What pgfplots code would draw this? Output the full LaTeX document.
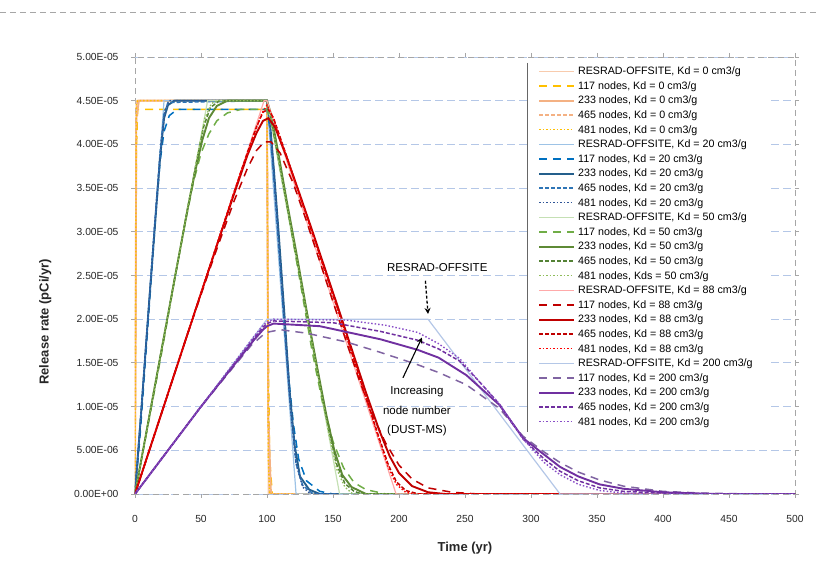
\documentclass[border=0pt]{standalone}
\usepackage{fontspec}
\setmainfont{Liberation Sans}
\usepackage{pgfplots}
\pgfplotsset{compat=1.18}
\usetikzlibrary{arrows.meta}
\definecolor{gridc}{HTML}{B4C7E7}
\definecolor{axc}{HTML}{A6A6A6}
% Kd = 0
\definecolor{rA}{HTML}{F8CBAD}\definecolor{aA}{HTML}{FFC000}\definecolor{bA}{HTML}{F4B183}\definecolor{cA}{HTML}{F4B183}\definecolor{dA}{HTML}{FFC000}
% Kd = 20
\definecolor{rB}{HTML}{9DC3E6}\definecolor{aB}{HTML}{0070C0}\definecolor{bB}{HTML}{245F8C}\definecolor{cB}{HTML}{2E75B6}\definecolor{dB}{HTML}{2F5597}
% Kd = 50
\definecolor{rC}{HTML}{C5E0B4}\definecolor{aC}{HTML}{70AD47}\definecolor{bC}{HTML}{5E8A35}\definecolor{cC}{HTML}{548235}\definecolor{dC}{HTML}{8FBC5A}
% Kd = 88
\definecolor{rD}{HTML}{FFAAAA}\definecolor{aD}{HTML}{C00000}\definecolor{bD}{HTML}{C00000}\definecolor{cD}{HTML}{C00000}\definecolor{dD}{HTML}{FF0000}
% Kd = 200
\definecolor{rE}{HTML}{B4C7E7}\definecolor{aE}{HTML}{8064A2}\definecolor{bE}{HTML}{7030A0}\definecolor{cE}{HTML}{7030A0}\definecolor{dE}{HTML}{8A4FC8}
\begin{document}
\begin{tikzpicture}
\path[use as bounding box] (-135pt,-78pt) rectangle (685pt,494pt);
\draw[axc, dash pattern=on 6pt off 4pt, line width=0.8pt] (-135pt,482pt) -- (685pt,482pt);
\begin{axis}[
 at={(0pt,0pt)}, anchor=south west,
 scale only axis, width=660pt, height=437pt,
 xmin=0, xmax=500, ymin=0, ymax=5,
 xtick={0,50,100,150,200,250,300,350,400,450,500},
 ytick={0,0.5,1,1.5,2,2.5,3,3.5,4,4.5,5},
 yticklabels={0.00E+00,5.00E-06,1.00E-05,1.50E-05,2.00E-05,2.50E-05,3.00E-05,3.50E-05,4.00E-05,4.50E-05,5.00E-05},
 /pgf/number format/assume math mode=true,
 ticklabel style={font=\fontsize{10.3}{12}\selectfont, text=black!85},
 xticklabel style={yshift=-14pt},
 yticklabel style={xshift=-9pt},
 ymajorgrids,
 grid style={gridc, dash pattern=on 8pt off 4pt, line width=0.8pt},
 axis line style={axc, dash pattern=on 6pt off 4pt, line width=0.8pt},
 tick align=outside, major tick length=4pt,
 tick style={axc, solid, line width=0.8pt},
 xlabel={\bfseries Time (yr)},
 ylabel={\bfseries Release rate (pCi/yr)},
 label style={font=\fontsize{13}{15}\selectfont, text=black!85},
 xlabel style={at={(axis description cs:0.5,-0.124)}, anchor=center},
 ylabel style={at={(axis description cs:-0.136,0.394)}, anchor=center},
 legend cell align=left,
 legend image code/.code={\draw[#1] (0pt,0pt) -- (35pt,0pt);},
 legend style={at={(0.594,0.988)}, anchor=north west, draw=none, fill=white,
   inner xsep=11pt,
   font=\fontsize{10.7}{13}\selectfont, row sep=0.7pt,
   nodes={inner xsep=3pt, inner ysep=1.2pt, text height=9pt, text depth=2.5pt}},
]
% ---- Kd = 0
\addplot[rA, line width=1.2pt] coordinates {(0,0)(1,4.5)(100,4.5)(101,0)(500,0)};
\addlegendentry{RESRAD-OFFSITE, Kd = 0 cm3/g}
\addplot[aA, line width=1.5pt, dash pattern=on 8pt off 6pt] coordinates {(0,0)(1,3.9)(2,4.4)(100,4.4)(101,1.6)(102,0.4)(104,0)(500,0)};
\addlegendentry{117 nodes, Kd = 0 cm3/g}
\addplot[bA, line width=1.9pt] coordinates {(0,0)(1,4.3)(3,4.5)(100,4.5)(101,0.9)(103,0)(500,0)};
\addlegendentry{233 nodes, Kd = 0 cm3/g}
\addplot[cA, line width=1.5pt, dash pattern=on 4pt off 2pt] coordinates {(0,0)(1,4.4)(2,4.5)(100,4.5)(101,0.5)(102,0)(500,0)};
\addlegendentry{465 nodes, Kd = 0 cm3/g}
\addplot[dA, line width=1.4pt, dash pattern=on 1.5pt off 2pt] coordinates {(0,0)(1,4.45)(2,4.5)(100,4.5)(101,0.4)(102,0)(500,0)};
\addlegendentry{481 nodes, Kd = 0 cm3/g}
% ---- Kd = 20
\addplot[rB, line width=1.2pt] coordinates {(0,0)(22,4.5)(100,4.5)(122,0)(500,0)};
\addlegendentry{RESRAD-OFFSITE, Kd = 20 cm3/g}
\addplot[aB, line width=1.5pt, dash pattern=on 8pt off 6pt] coordinates {(0,0)(4,0.7)(8,1.55)(12,2.4)(16,3.25)(19,3.8)(22,4.15)(26,4.33)(32,4.4)(100,4.4)(102,4.2)(105,3.7)(108,3.1)(112,2.2)(116,1.4)(120,0.8)(124,0.4)(130,0.15)(140,0.03)(150,0)(500,0)};
\addlegendentry{117 nodes, Kd = 20 cm3/g}
\addplot[bB, line width=1.9pt] coordinates {(0,0)(5,1.0)(10,2.05)(15,3.05)(19,3.85)(22,4.3)(25,4.45)(30,4.5)(100,4.5)(102,4.3)(105,3.75)(109,2.95)(113,2.1)(117,1.2)(121,0.55)(125,0.2)(132,0.05)(140,0)(500,0)};
\addlegendentry{233 nodes, Kd = 20 cm3/g}
\addplot[cB, line width=1.5pt, dash pattern=on 4pt off 2pt] coordinates {(0,0)(5,1.02)(10,2.05)(15,3.1)(19,3.9)(22,4.35)(25,4.48)(100,4.5)(102,4.25)(106,3.45)(110,2.6)(114,1.75)(118,0.95)(122,0.35)(127,0.1)(135,0)(500,0)};
\addlegendentry{465 nodes, Kd = 20 cm3/g}
\addplot[dB, line width=1.4pt, dash pattern=on 1.5pt off 2pt] coordinates {(0,0)(5,1.02)(10,2.05)(15,3.1)(20,4.05)(23,4.4)(26,4.5)(100,4.5)(102,4.3)(106,3.5)(110,2.65)(114,1.8)(118,0.95)(122,0.35)(127,0.08)(133,0)(500,0)};
\addlegendentry{481 nodes, Kd = 20 cm3/g}
% ---- Kd = 50
\addplot[rC, line width=1.2pt] coordinates {(0,0)(55,4.5)(100,4.5)(155,0)(500,0)};
\addlegendentry{RESRAD-OFFSITE, Kd = 50 cm3/g}
\addplot[aC, line width=1.5pt, dash pattern=on 8pt off 6pt] coordinates {(0,0)(10,0.8)(20,1.6)(30,2.45)(38,3.1)(44,3.55)(50,3.9)(56,4.12)(62,4.27)(70,4.36)(80,4.4)(100,4.4)(104,4.2)(110,3.75)(118,3.05)(126,2.35)(134,1.65)(142,1.05)(150,0.6)(158,0.3)(166,0.13)(175,0.05)(190,0)(500,0)};
\addlegendentry{117 nodes, Kd = 50 cm3/g}
\addplot[bC, line width=1.9pt] coordinates {(0,0)(10,0.82)(20,1.64)(30,2.46)(40,3.27)(46,3.72)(51,4.05)(56,4.3)(62,4.44)(70,4.5)(100,4.5)(103,4.35)(108,3.95)(115,3.35)(122,2.78)(130,2.1)(138,1.45)(145,0.9)(151,0.5)(157,0.22)(164,0.08)(175,0)(500,0)};
\addlegendentry{233 nodes, Kd = 50 cm3/g}
\addplot[cC, line width=1.5pt, dash pattern=on 4pt off 2pt] coordinates {(0,0)(10,0.82)(20,1.64)(30,2.46)(40,3.28)(47,3.83)(52,4.2)(57,4.42)(64,4.5)(100,4.5)(103,4.3)(110,3.72)(120,2.9)(130,2.08)(140,1.27)(147,0.72)(153,0.33)(159,0.12)(166,0.03)(172,0)(500,0)};
\addlegendentry{465 nodes, Kd = 50 cm3/g}
\addplot[dC, line width=1.4pt, dash pattern=on 1.5pt off 2pt] coordinates {(0,0)(10,0.82)(20,1.64)(30,2.46)(40,3.28)(48,3.92)(53,4.3)(58,4.47)(63,4.5)(100,4.5)(103,4.3)(110,3.72)(120,2.9)(130,2.08)(140,1.25)(147,0.68)(153,0.28)(159,0.08)(165,0)(500,0)};
\addlegendentry{481 nodes, Kds = 50 cm3/g}
% ---- Kd = 88
\addplot[rD, line width=1.2pt] coordinates {(0,0)(97.8,4.5)(100,4.5)(197.8,0)(500,0)};
\addlegendentry{RESRAD-OFFSITE, Kd = 88 cm3/g}
\addplot[aD, line width=1.5pt, dash pattern=on 8pt off 6pt] coordinates {(0,0)(20,0.92)(40,1.84)(60,2.72)(75,3.35)(85,3.72)(92,3.93)(98,4.03)(103,4.03)(110,3.9)(120,3.55)(130,3.12)(140,2.66)(150,2.2)(160,1.75)(170,1.3)(180,0.9)(190,0.58)(200,0.33)(210,0.17)(222,0.07)(240,0.02)(260,0)(500,0)};
\addlegendentry{117 nodes, Kd = 88 cm3/g}
\addplot[bD, line width=1.9pt] coordinates {(0,0)(20,0.92)(40,1.84)(60,2.75)(75,3.43)(85,3.87)(92,4.13)(97,4.27)(101,4.3)(106,4.2)(115,3.85)(125,3.42)(135,2.98)(145,2.53)(155,2.08)(165,1.62)(175,1.16)(185,0.73)(193,0.43)(200,0.24)(210,0.09)(222,0.02)(235,0)(500,0)};
\addlegendentry{233 nodes, Kd = 88 cm3/g}
\addplot[cD, line width=1.5pt, dash pattern=on 4pt off 2pt] coordinates {(0,0)(20,0.92)(40,1.84)(60,2.76)(75,3.45)(85,3.9)(92,4.2)(97,4.37)(101,4.4)(105,4.3)(115,3.86)(125,3.41)(135,2.96)(145,2.5)(155,2.05)(165,1.58)(175,1.1)(185,0.64)(192,0.33)(198,0.14)(205,0.04)(215,0)(500,0)};
\addlegendentry{465 nodes, Kd = 88 cm3/g}
\addplot[dD, line width=1.4pt, dash pattern=on 1.5pt off 2pt] coordinates {(0,0)(20,0.92)(40,1.84)(60,2.76)(80,3.68)(90,4.1)(96,4.35)(100,4.45)(104,4.33)(115,3.85)(125,3.4)(135,2.95)(145,2.5)(155,2.04)(165,1.58)(175,1.1)(185,0.62)(192,0.3)(198,0.11)(205,0.02)(212,0)(500,0)};
\addlegendentry{481 nodes, Kd = 88 cm3/g}
% ---- Kd = 200
\addplot[rE, line width=1.2pt] coordinates {(0,0)(100,2.0)(222,2.0)(322,0)(500,0)};
\addlegendentry{RESRAD-OFFSITE, Kd = 200 cm3/g}
\addplot[aE, line width=1.5pt, dash pattern=on 8pt off 6pt] coordinates {(0,0)(50,1.0)(88,1.7)(97,1.82)(100,1.85)(110,1.88)(130,1.84)(160,1.74)(186,1.62)(214,1.48)(230,1.39)(251,1.25)(276,0.98)(294,0.66)(310,0.48)(322,0.36)(336,0.25)(352,0.16)(370,0.09)(400,0.03)(430,0.01)(470,0)(500,0)};
\addlegendentry{117 nodes, Kd = 200 cm3/g}
\addplot[bE, line width=1.9pt] coordinates {(0,0)(50,1.0)(90,1.76)(97,1.88)(100,1.92)(105,1.95)(140,1.92)(186,1.77)(214,1.65)(230,1.56)(251,1.36)(276,1.02)(294,0.64)(310,0.45)(322,0.31)(336,0.2)(352,0.11)(370,0.06)(400,0.02)(440,0)(500,0)};
\addlegendentry{233 nodes, Kd = 200 cm3/g}
\addplot[cE, line width=1.5pt, dash pattern=on 4pt off 2pt] coordinates {(0,0)(50,1.0)(90,1.78)(97,1.91)(100,1.95)(105,1.98)(150,1.96)(186,1.86)(214,1.76)(230,1.66)(246,1.52)(260,1.3)(276,1.03)(294,0.63)(310,0.4)(322,0.26)(336,0.15)(352,0.07)(370,0.03)(400,0.01)(420,0)(500,0)};
\addlegendentry{465 nodes, Kd = 200 cm3/g}
\addplot[dE, line width=1.4pt, dash pattern=on 1.5pt off 2pt] coordinates {(0,0)(50,1.0)(90,1.8)(97,1.93)(100,1.97)(105,2.0)(160,1.99)(190,1.93)(214,1.85)(230,1.72)(246,1.55)(260,1.3)(276,1.03)(294,0.63)(310,0.36)(322,0.22)(336,0.11)(352,0.04)(370,0.01)(390,0)(500,0)};
\addlegendentry{481 nodes, Kd = 200 cm3/g}
% ---- annotations
\node[font=\fontsize{11.5}{13}\selectfont] at (axis cs:229,2.59) {RESRAD-OFFSITE};
\draw[black, line width=1.3pt, dash pattern=on 3pt off 2pt, -{Stealth[length=6pt,width=6pt]}] (axis cs:220,2.44) -- (axis cs:222,2.06);
\node[font=\fontsize{11.5}{19.5}\selectfont, align=center, anchor=north] at (axis cs:213.6,1.27) {Increasing\\node number\\(DUST-MS)};
\draw[black, line width=1.1pt, -{Stealth[length=6pt,width=6pt]}] (axis cs:203,1.33) -- (axis cs:217.4,1.79);
\end{axis}
\draw[black!60, line width=1pt] (392pt,431pt) -- (392pt,62pt);
\end{tikzpicture}
\end{document}
